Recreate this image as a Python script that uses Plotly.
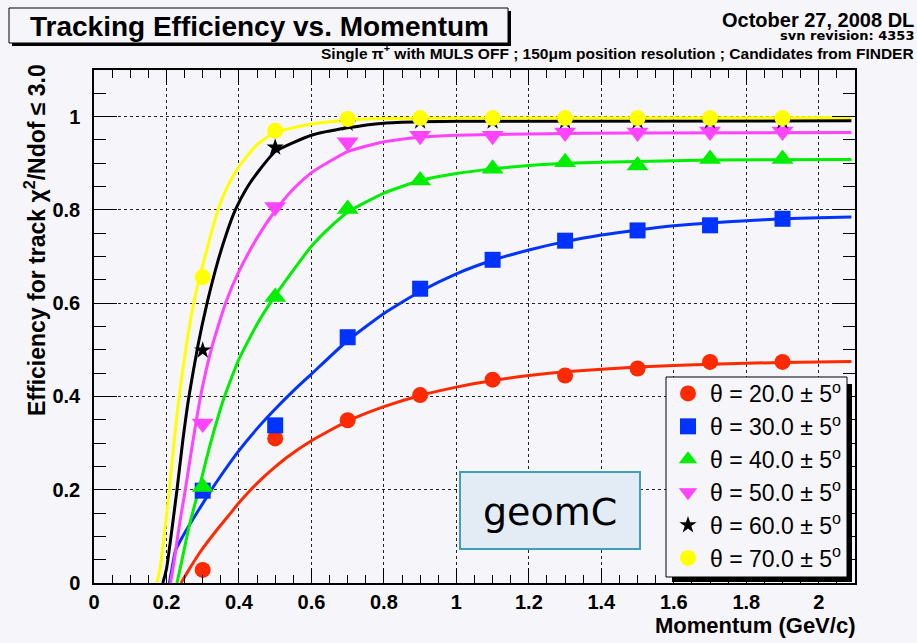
import plotly.graph_objects as go

# ---------------- data ----------------
momentum = [0.3, 0.5, 0.7, 0.9, 1.1, 1.3, 1.5, 1.7, 1.9]
eff_20 = [0.028, 0.310, 0.349, 0.403, 0.436, 0.445, 0.460, 0.474, 0.474]
eff_30 = [0.198, 0.338, 0.527, 0.631, 0.693, 0.734, 0.756, 0.767, 0.781]
eff_40 = [0.206, 0.613, 0.802, 0.863, 0.888, 0.902, 0.895, 0.909, 0.909]
eff_50 = [0.342, 0.806, 0.945, 0.959, 0.959, 0.966, 0.966, 0.968, 0.968]
eff_60 = [0.499, 0.934, 0.985, 0.990, 0.990, 0.990, 0.990, 0.990, 0.990]
eff_70 = [0.656, 0.970, 0.995, 0.997, 0.997, 0.997, 0.997, 0.997, 0.997]

# fit curves
fit_p_20 = [0.240, 0.260, 0.280, 0.300, 0.335, 0.370, 0.400, 0.430, 0.465, 0.500, 0.530, 0.600,
            0.700, 0.800, 0.900, 1.000, 1.100, 1.200, 1.300, 1.500, 1.700, 1.900, 2.090]
fit_e_20 = [0.000, 0.026, 0.051, 0.074, 0.110, 0.143, 0.172, 0.198, 0.225, 0.249, 0.268, 0.305,
            0.347, 0.378, 0.402, 0.420, 0.434, 0.445, 0.453, 0.463, 0.469, 0.473, 0.475]
fit_p_30 = [0.208, 0.215, 0.225, 0.245, 0.266, 0.290, 0.320, 0.350, 0.400, 0.450, 0.500, 0.550,
            0.600, 0.700, 0.800, 0.900, 1.000, 1.100, 1.200, 1.300, 1.400, 1.500, 1.600, 1.700,
            1.800, 1.900, 2.000, 2.090]
fit_e_30 = [0.000, 0.030, 0.070, 0.100, 0.128, 0.158, 0.195, 0.230, 0.284, 0.331, 0.373, 0.412,
            0.448, 0.520, 0.578, 0.625, 0.663, 0.692, 0.714, 0.732, 0.746, 0.757, 0.766, 0.772,
            0.777, 0.781, 0.783, 0.785]
fit_p_40 = [0.229, 0.243, 0.262, 0.289, 0.320, 0.358, 0.400, 0.450, 0.492, 0.540, 0.600, 0.650,
            0.700, 0.800, 0.900, 1.000, 1.100, 1.200, 1.300, 1.500, 1.700, 2.090]
fit_e_40 = [0.000, 0.050, 0.120, 0.200, 0.295, 0.395, 0.480, 0.555, 0.607, 0.660, 0.722, 0.762,
            0.795, 0.836, 0.863, 0.878, 0.888, 0.895, 0.900, 0.904, 0.907, 0.908]
fit_p_50 = [0.211, 0.220, 0.230, 0.240, 0.252, 0.270, 0.294, 0.325, 0.363, 0.400, 0.450, 0.497,
            0.550, 0.600, 0.700, 0.800, 0.900, 1.000, 1.200, 1.500, 2.090]
fit_e_50 = [0.000, 0.040, 0.095, 0.145, 0.200, 0.290, 0.400, 0.505, 0.600, 0.668, 0.740, 0.795,
            0.845, 0.880, 0.925, 0.946, 0.956, 0.960, 0.963, 0.965, 0.966]
fit_p_60 = [0.190, 0.200, 0.210, 0.229, 0.245, 0.262, 0.287, 0.312, 0.340, 0.365, 0.390, 0.420,
            0.455, 0.500, 0.600, 0.700, 0.800, 0.900, 1.000, 2.090]
fit_e_60 = [0.000, 0.030, 0.085, 0.200, 0.305, 0.400, 0.510, 0.600, 0.685, 0.748, 0.800, 0.845,
            0.884, 0.925, 0.960, 0.976, 0.986, 0.989, 0.990, 0.991]
fit_p_70 = [0.174, 0.183, 0.192, 0.208, 0.222, 0.235, 0.255, 0.275, 0.298, 0.320, 0.342, 0.370,
            0.400, 0.450, 0.500, 0.600, 0.700, 0.800, 1.000, 2.090]
fit_e_70 = [0.000, 0.035, 0.090, 0.200, 0.310, 0.400, 0.510, 0.600, 0.675, 0.740, 0.800, 0.853,
            0.893, 0.940, 0.966, 0.984, 0.993, 0.996, 0.997, 0.998]

series_labels = ["θ = 20.0 ± 5<sup>o</sup>", "θ = 30.0 ± 5<sup>o</sup>", "θ = 40.0 ± 5<sup>o</sup>",
                 "θ = 50.0 ± 5<sup>o</sup>", "θ = 60.0 ± 5<sup>o</sup>", "θ = 70.0 ± 5<sup>o</sup>"]
x_ticks = [0, 0.2, 0.4, 0.6, 0.8, 1.0, 1.2, 1.4, 1.6, 1.8, 2.0]
y_ticks = [0, 0.2, 0.4, 0.6, 0.8, 1.0]

# ---------------- styles ----------------
colors = ["#ff2a00", "#0033ff", "#00ee00", "#ff44ff", "#000000", "#ffff00"]
symbols = ["circle", "square", "triangle-up", "triangle-down", "star", "circle"]
msizes = [16, 16, 19, 19, 13, 16]
effs = [eff_20, eff_30, eff_40, eff_50, eff_60, eff_70]
fits = [(fit_p_20, fit_e_20), (fit_p_30, fit_e_30), (fit_p_40, fit_e_40),
        (fit_p_50, fit_e_50), (fit_p_60, fit_e_60), (fit_p_70, fit_e_70)]

FONT = "Liberation Sans, Arial, Helvetica, sans-serif"
BG = "#f6f5f9"
W, H = 917, 643
L, R, T, B = 94, 855, 70, 583


def fx(px):
    return (px - L) / (R - L)


def fy(py):
    return (B - py) / (B - T)


fig = go.Figure()

for (fp, fe), c in zip(fits, colors):
    fig.add_trace(go.Scatter(x=fp, y=fe, mode="lines",
                             line=dict(color=c, width=3, shape="spline", smoothing=0.5),
                             showlegend=False, hoverinfo="skip"))

for i, (e, c, s, ms, lab) in enumerate(zip(effs, colors, symbols, msizes, series_labels)):
    fig.add_trace(go.Scatter(x=momentum, y=e, mode="markers", name=lab,
                             legendgroup=f"g{i}",
                             marker=dict(color=c, symbol=s, size=ms, line=dict(width=0))))

axis_common = dict(
    showline=True, linecolor="black", linewidth=1.5, mirror="allticks",
    ticks="inside", tickcolor="black", tickwidth=1,
    showgrid=True, gridcolor="#222222", griddash="dot", gridwidth=1,
    zeroline=False,
    tickfont=dict(family=FONT, size=20, color="black", weight="bold"),
)

fig.update_xaxes(range=[0, 2.1], tickvals=x_ticks, ticklen=15,
                 minor=dict(dtick=0.05, ticklen=8, ticks="inside", tickcolor="black", showgrid=False),
                 ticklabelstandoff=0, **axis_common)
fig.update_yaxes(range=[0, 1.1], tickvals=y_ticks, ticklen=23,
                 minor=dict(dtick=0.05, ticklen=12, ticks="inside", tickcolor="black", showgrid=False),
                 ticklabelstandoff=8, **axis_common)

shapes = []
# title box with shadow
shapes.append(dict(type="rect", xref="paper", yref="paper", x0=fx(12), x1=fx(511), y0=fy(46), y1=fy(11),
                   fillcolor="black", line=dict(width=0), layer="above"))
shapes.append(dict(type="rect", xref="paper", yref="paper", x0=fx(9), x1=fx(508), y0=fy(43), y1=fy(8),
                   fillcolor=BG, line=dict(color="black", width=1), layer="above"))
# legend box with shadow
shapes.append(dict(type="rect", xref="paper", yref="paper", x0=fx(672), x1=fx(852), y0=fy(582), y1=fy(384),
                   fillcolor="black", line=dict(width=0), layer="above"))
shapes.append(dict(type="rect", xref="paper", yref="paper", x0=fx(666), x1=fx(847), y0=fy(577), y1=fy(377),
                   fillcolor=BG, line=dict(color="black", width=1), layer="above"))
# geomC box
shapes.append(dict(type="rect", xref="paper", yref="paper", x0=fx(460), x1=fx(640), y0=fy(549), y1=fy(472),
                   fillcolor="#e3ebf5", line=dict(color="#40a0b5", width=2), layer="above"))

annotations = [
    dict(text="Tracking Efficiency vs. Momentum", x=fx(259), y=fy(26), xref="paper", yref="paper",
         xanchor="center", yanchor="middle", showarrow=False,
         font=dict(family=FONT, size=28, color="black", weight="bold")),
    dict(text="October 27, 2008 DL", x=fx(916), y=fy(20), xref="paper", yref="paper",
         xanchor="right", yanchor="middle", showarrow=False,
         font=dict(family=FONT, size=20, color="black", weight="bold")),
    dict(text="svn revision: 4353", x=fx(916), y=fy(36), xref="paper", yref="paper",
         xanchor="right", yanchor="middle", showarrow=False,
         font=dict(family="DejaVu Sans", size=13, color="black", weight="bold")),
    dict(text="Single π<sup>+</sup> with MULS OFF ; 150μm position resolution ; Candidates from FINDER",
         x=fx(916), y=fy(52), xref="paper", yref="paper",
         xanchor="right", yanchor="middle", showarrow=False,
         font=dict(family=FONT, size=15.5, color="black", weight="bold")),
    dict(text="Efficiency for track χ<sup>2</sup>/Ndof ≤ 3.0", x=fx(35), y=fy(240), xref="paper", yref="paper",
         xanchor="center", yanchor="middle", textangle=-90, showarrow=False,
         font=dict(family=FONT, size=23, color="black", weight="bold")),
    dict(text="Momentum (GeV/c)", x=fx(857), y=fy(625), xref="paper", yref="paper",
         xanchor="right", yanchor="middle", showarrow=False,
         font=dict(family=FONT, size=22, color="black", weight="bold")),
    dict(text="geomC", x=fx(550), y=fy(512), xref="paper", yref="paper",
         xanchor="center", yanchor="middle", showarrow=False,
         font=dict(family="DejaVu Sans", size=38, color="black")),
]

fig.update_layout(
    width=W, height=H, autosize=False,
    margin=dict(l=L, r=W - R, t=T, b=H - B, pad=0),
    paper_bgcolor=BG, plot_bgcolor=BG,
    shapes=shapes, annotations=annotations,
    showlegend=True,
    legend=dict(x=fx(666), y=fy(372), xanchor="left", yanchor="top",
                bgcolor="rgba(0,0,0,0)", borderwidth=0,
                font=dict(family=FONT, size=23, color="black"),
                itemwidth=34, tracegroupgap=3, traceorder="normal"),
)

fig.write_html("out.html",
               config={"displayModeBar": False},
               post_script="document.body.style.margin='0';document.body.style.padding='0';"
                           "document.body.style.background='" + BG + "';")
